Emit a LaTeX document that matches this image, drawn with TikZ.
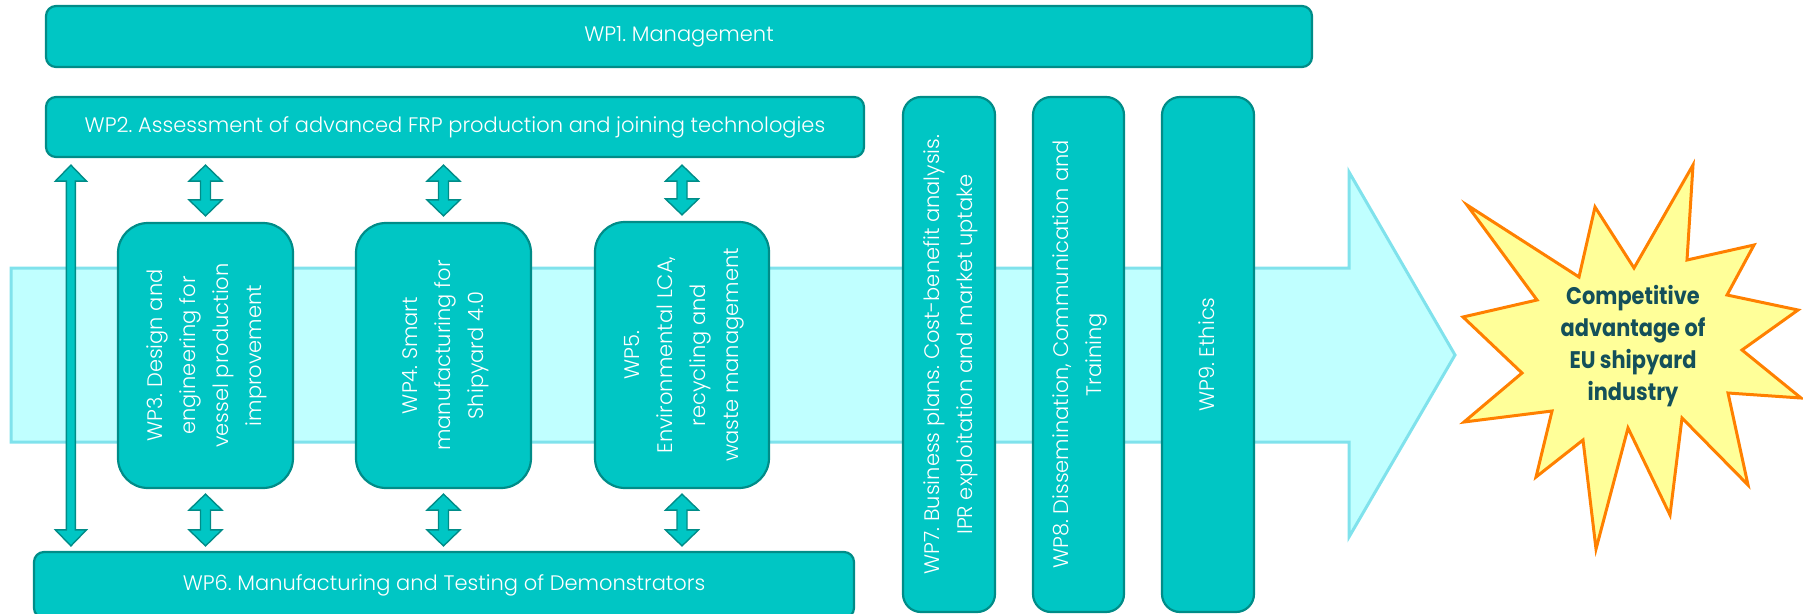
\documentclass[tikz,border=0pt]{standalone}
\usepackage{fontspec}
\setmainfont{Poppins Light}
\newfontfamily\starfont{Poppins}[FakeStretch=0.87]
\usetikzlibrary{calc}
\definecolor{boxfill}{RGB}{0,198,196}
\definecolor{boxline}{RGB}{0,140,136}
\definecolor{bigfill}{RGB}{192,255,255}
\definecolor{bigline}{RGB}{128,226,236}
\definecolor{starfill}{RGB}{255,255,153}
\definecolor{starline}{RGB}{255,128,0}
\definecolor{startext}{RGB}{20,80,90}
\newcommand\dblarrow[4]{%
\filldraw[blockarr] let \p1=(#1), \p2=(#2) in
 (\x1,\y1) -- (\x1+#3,\y1-16pt) -- (\x1+#4,\y1-16pt) -- (\x1+#4,\y2+16pt) -- (\x1+#3,\y2+16pt)
 -- (\x1,\y2) -- (\x1-#3,\y2+16pt) -- (\x1-#4,\y2+16pt) -- (\x1-#4,\y1-16pt) -- (\x1-#3,\y1-16pt) -- cycle;}
\newcommand\vtext[1]{\rotatebox{90}{\begin{tabular}{@{}c@{}}#1\end{tabular}}}
\frenchspacing
\begin{document}
\begin{tikzpicture}[x=1pt,y=-1pt,
  wp/.style={draw=boxline, fill=boxfill, line width=2.2pt, text=white, inner sep=0pt,
    font=\fontsize{21}{33}\selectfont, align=center},
  hbox/.style={wp, rounded corners=10pt},
  tallbox/.style={wp, rounded corners=30pt},
  colbox/.style={wp, rounded corners=18pt},
  blockarr/.style={fill=boxfill, draw=boxline, line width=1.4pt, line join=miter},
  bigarrow/.style={fill=bigfill, draw=bigline, line width=3pt, line join=miter},
  starshape/.style={fill=starfill, draw=starline, line width=3pt, line join=miter},
  startxt/.style={text=startext, font=\starfont\fontsize{24}{32}\selectfont\bfseries, align=center, inner sep=0pt}]
\useasboundingbox (0,0) rectangle (1803,613);
% big background arrow
\filldraw[bigarrow] (11,268) -- (1349,268) -- (1349,172) -- (1455,355) -- (1349,537) -- (1349,442) -- (11,442) -- cycle;
% boxes
\node[hbox, minimum width=1266pt, minimum height=61pt] (wp1) at (679,36.5) {WP1. Management};
\node[hbox, minimum width=818pt, minimum height=60pt] (wp2) at (455,127) {WP2. Assessment of advanced FRP production and joining technologies};
\node[hbox, minimum width=820pt, minimum height=66pt] (wp6) at (444,585) {WP6. Manufacturing and Testing of Demonstrators};
\node[tallbox, minimum width=175pt, minimum height=265pt] (wp3) at (205.5,355.5) {\vtext{WP3. Design and\\ engineering for\\ vessel production\\ improvement}};
\node[tallbox, minimum width=175pt, minimum height=265pt] (wp4) at (443.5,355.5) {\vtext{WP4. Smart\\ manufacturing for\\ Shipyard 4.0}};
\node[tallbox, minimum width=174pt, minimum height=266pt] (wp5) at (682,355) {\vtext{WP5.\\ Environmental LCA,\\ recycling and\\ waste management}};
\node[colbox, minimum width=92pt, minimum height=515pt] (wp7) at (949,354.5) {\vtext{WP7. Business plans. Cost-benefit analysis.\\ IPR exploitation and market uptake}};
\node[colbox, minimum width=91pt, minimum height=515pt] (wp8) at (1078.5,354.5) {\vtext{WP8. Dissemination, Communication and\\ Training}};
\node[colbox, minimum width=92pt, minimum height=515pt] (wp9) at (1208,354.5) {\vtext{WP9. Ethics}};
% connectors
\dblarrow{$(wp2.south -| wp3.north)+(0,7)$}{$(wp3.north)+(0,-6)$}{16.5pt}{5pt}
\dblarrow{$(wp2.south -| wp4.north)+(0,7)$}{$(wp4.north)+(0,-6)$}{16.5pt}{5pt}
\dblarrow{$(wp2.south -| wp5.north)+(0,7)$}{$(wp5.north)+(0,-6)$}{16.5pt}{5pt}
\dblarrow{$(wp3.south)+(0,5)$}{$(wp6.north -| wp3.south)+(0,-5)$}{16.5pt}{5pt}
\dblarrow{$(wp4.south)+(0,5)$}{$(wp6.north -| wp4.south)+(0,-5)$}{16.5pt}{5pt}
\dblarrow{$(wp5.south)+(0,5)$}{$(wp6.north -| wp5.south)+(0,-5)$}{16.5pt}{5pt}
\coordinate (ltop) at ($(wp2.south west)+(26,7)$);
\coordinate (lbot) at ($(ltop |- wp6.north)+(0,-5)$);
\dblarrow{ltop}{lbot}{15.5pt}{4.5pt}
% star
\filldraw[starshape] (1467,205) -- (1579,277) -- (1595,207) -- (1634,268) -- (1693,165) -- (1687,260)
 -- (1754,245) -- (1727,295) -- (1798,310) -- (1742,350) -- (1801,398) -- (1728,393)
 -- (1748,485) -- (1682,418) -- (1670,515) -- (1628,428) -- (1596,549) -- (1583,440)
 -- (1536,477) -- (1552,411) -- (1464,422) -- (1522,373) -- (1463,317) -- (1537,300) -- cycle;
\node[startxt] (star) at (1633,346) {Competitive\\ advantage of\\ EU shipyard\\ industry};
\end{tikzpicture}
\end{document}
